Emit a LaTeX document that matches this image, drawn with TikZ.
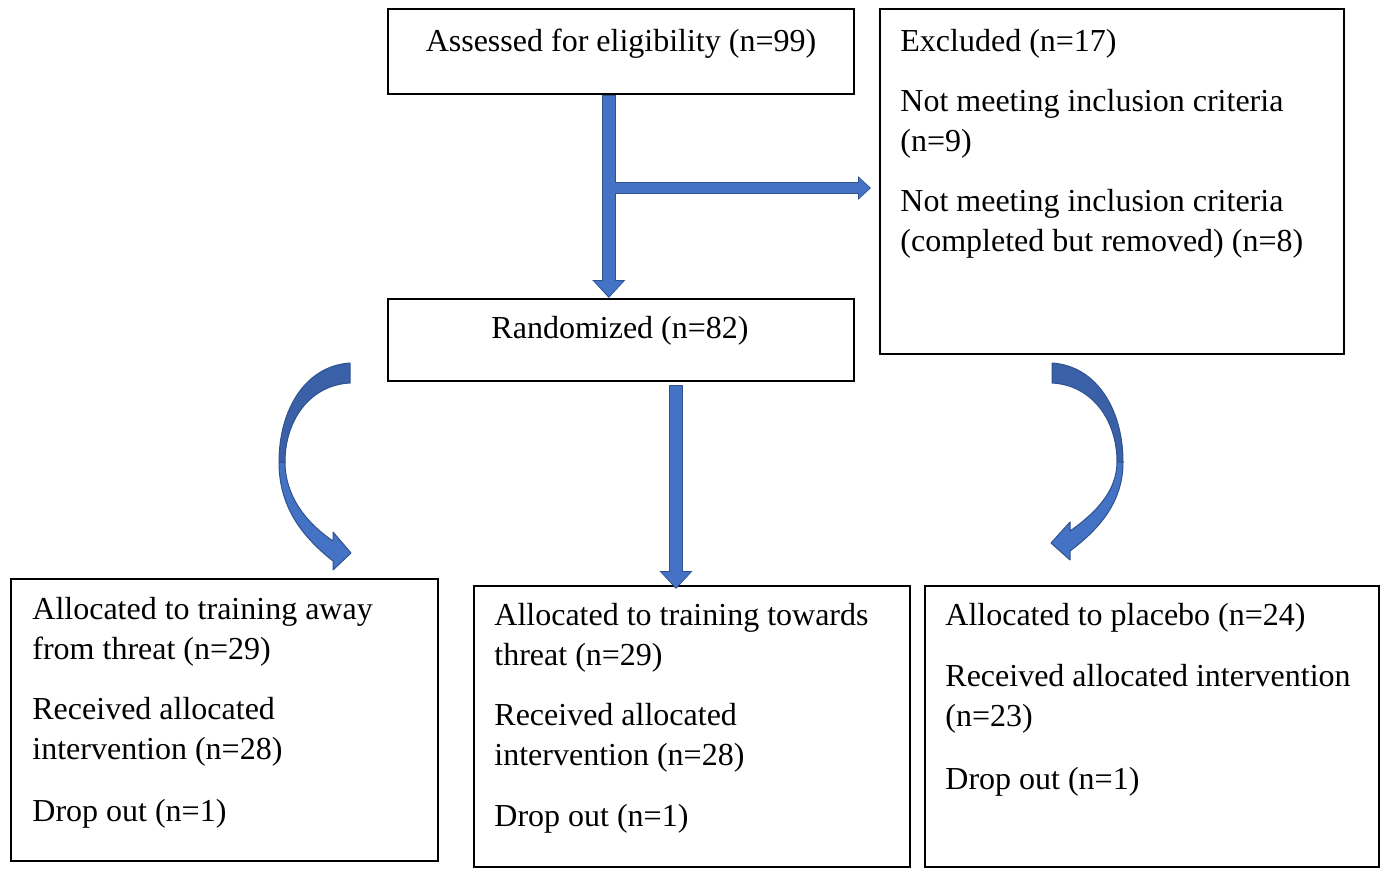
\documentclass[tikz,border=0pt]{standalone}
\usepackage{fontspec}
\setmainfont{Liberation Serif}
\usetikzlibrary{arrows.meta,calc}

\definecolor{arrowblue}{HTML}{4472C4}
\definecolor{arrowrim}{HTML}{2F528F}
\definecolor{arrowdark}{HTML}{3A61A8}

\begin{document}
\begin{tikzpicture}
    [x=0.5pt, y=-0.5pt,
     box/.style={rectangle, draw, line width=0.8pt, anchor=north west, inner sep=0pt},
     txt/.style={inner sep=0pt, font=\fontsize{16}{20}\selectfont},
     para/.style={txt, anchor=north west, text width=220pt, align=left,
        execute at begin node={\spaceskip=0pt\xspaceskip=0pt}},
     rimv/.style={draw=arrowrim, line width=7pt, -{Triangle[length=9pt, width=16pt]}},
     fillv/.style={draw=arrowblue, line width=6pt, shorten >=0.8pt, shorten <=0.5pt, -{Triangle[length=7.6pt, width=14pt]}},
     rimh/.style={draw=arrowrim, line width=6pt, -{Triangle[length=6.5pt, width=11.5pt]}},
     fillh/.style={draw=arrowblue, line width=5pt, shorten >=0.7pt, -{Triangle[length=5.3pt, width=9.8pt]}},
     curvearrow/.style={draw=arrowrim, line width=0.5pt, line join=round}]
    \useasboundingbox (0,0) rectangle (1381,868);
    % boxes
    \node[box, minimum width=233pt, minimum height=42.5pt] (assess) at (387,8) {};
    \node[box, minimum width=232pt, minimum height=172.5pt] (excl) at (879,8) {};
    \node[box, minimum width=233pt, minimum height=41pt] (random) at (387,298) {};
    \node[box, minimum width=213.5pt, minimum height=141pt] (away) at (10,578) {};
    \node[box, minimum width=218pt, minimum height=140.5pt] (towards) at (473,585) {};
    \node[box, minimum width=227pt, minimum height=140.5pt] (placebo) at (924,585) {};
    % texts
    \node[txt, anchor=base] (assesstext) at (621,51) {Assessed for eligibility (n=99)};
    \node[txt, anchor=base] (randomtext) at (620,338) {Randomized (n=82)};
    \node[para] (excltext) at (900,23) {\strut Excluded (n=17)\\[10pt]
        Not meeting inclusion criteria\\(n=9)\\[10pt]
        Not meeting inclusion criteria\\(completed but removed) (n=8)};
    \node[para] (awaytext) at (32,591) {\strut Allocated to training away\\from threat (n=29)\\[10pt]
        Received allocated\\intervention (n=28)\\[11pt]
        Drop out (n=1)};
    \node[para] (towardstext) at (494,597) {\strut Allocated to training towards\\threat (n=29)\\[10pt]
        Received allocated\\intervention (n=28)\\[10.5pt]
        Drop out (n=1)};
    \node[para] (placebotext) at (945,597) {\strut Allocated to placebo (n=24)\\[10.5pt]
        Received allocated intervention\\(n=23)\\[11.5pt]
        Drop out (n=1)};
    % straight block arrows
    \coordinate (split) at (608,188);
    \coordinate (midstart) at (676,385);
    \draw[rimv] ([xshift=-6pt]assess.south) -- ([xshift=-6pt]random.north);
    \draw[rimh] (split) -- ([xshift=-4pt]excl.west |- split);
    \draw[rimv] (midstart) -- ([yshift=-2pt]midstart |- towards.north);
    \draw[fillh] (split) -- ([xshift=-4pt]excl.west |- split);
    \draw[fillv] ([xshift=-6pt]assess.south) -- ([xshift=-6pt]random.north);
    \draw[fillv] (midstart) -- ([yshift=-2pt]midstart |- towards.north);
    % curved arrows
    \path[curvearrow, fill=arrowdark] (350,363) .. controls (305,366) and (279,410) .. (279,462)
        -- (285,462) .. controls (285,420) and (310,385) .. (350,383) -- cycle;
    \path[curvearrow, fill=arrowblue] (279,462) .. controls (279,505) and (300,535) .. (333,561)
        -- (333,570) -- (351,553) -- (333,532) -- (333,541)
        .. controls (305,522) and (285,495) .. (285,462) -- cycle;
    \path[curvearrow, fill=arrowdark] (1052,363) .. controls (1097,366) and (1123,410) .. (1123,462)
        -- (1117,462) .. controls (1117,420) and (1092,385) .. (1052,383) -- cycle;
    \path[curvearrow, fill=arrowblue] (1123,462) .. controls (1123,500) and (1102,527) .. (1070,551)
        -- (1070,560) -- (1051,543) -- (1070,522) -- (1070,531)
        .. controls (1097,512) and (1117,490) .. (1117,462) -- cycle;
\end{tikzpicture}
\end{document}
